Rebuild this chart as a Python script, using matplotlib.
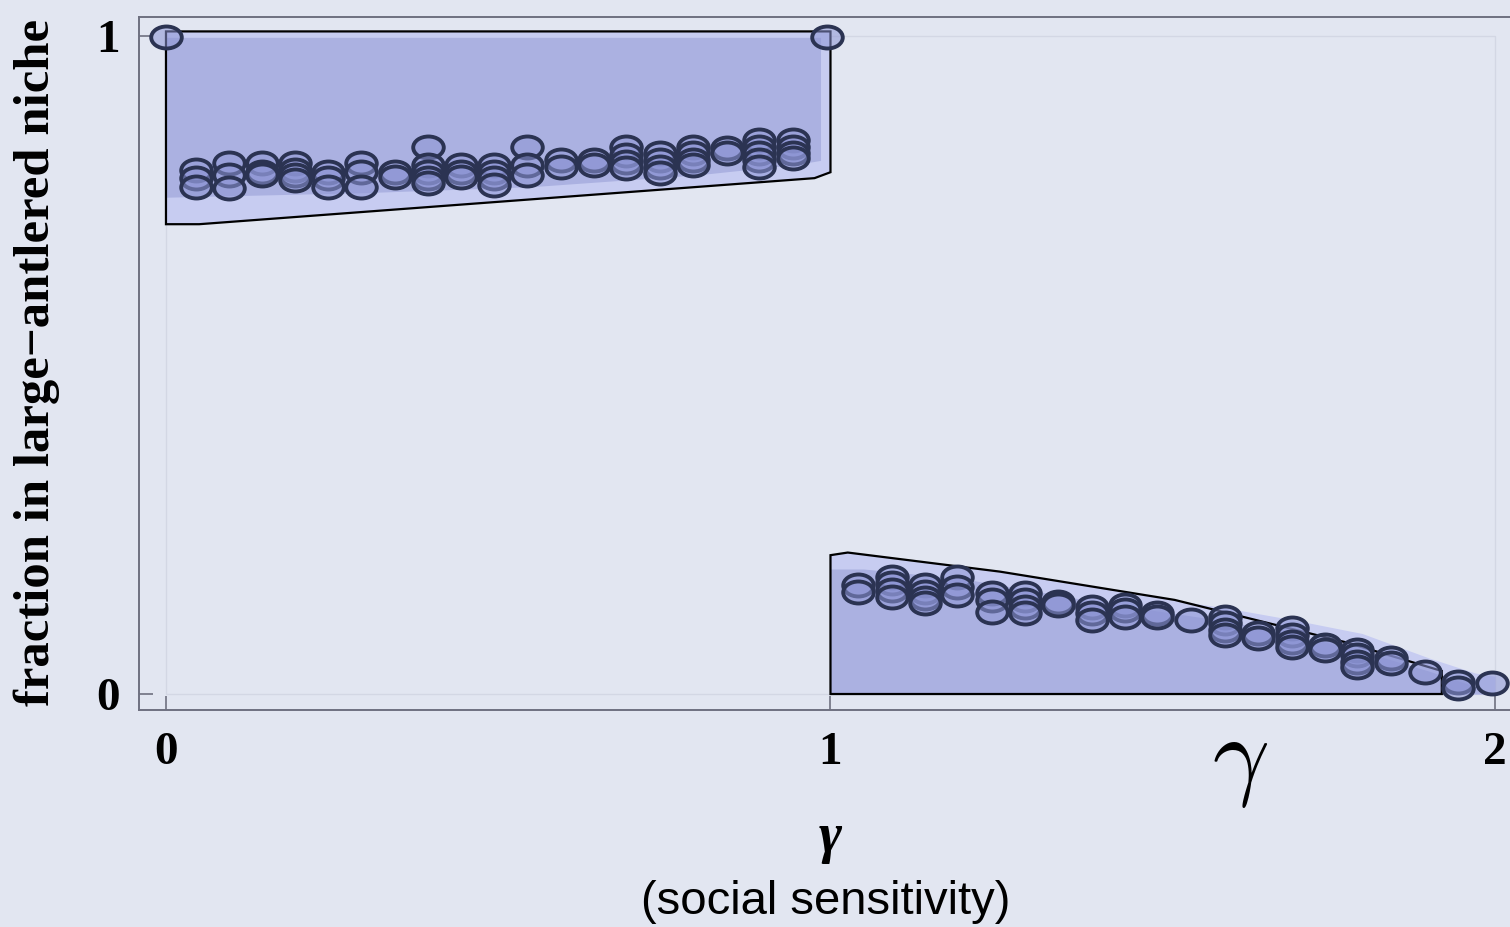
import matplotlib
matplotlib.use("Agg")
import matplotlib.pyplot as plt
import matplotlib.transforms as mtransforms
from matplotlib.path import Path
from matplotlib.patches import Polygon, Rectangle

# Data: gamma positions of the simulation runs and the fractions found
upper_x = [0.045, 0.095, 0.144, 0.194, 0.244, 0.293, 0.344, 0.394, 0.444, 0.493,
           0.543, 0.594, 0.644, 0.693, 0.743, 0.793, 0.844, 0.893, 0.943]
upper_y = [[0.796, 0.784, 0.771],
           [0.807, 0.789, 0.769],
           [0.807, 0.793, 0.789],
           [0.807, 0.796, 0.789, 0.781],
           [0.793, 0.784, 0.771],
           [0.807, 0.793, 0.771],
           [0.793, 0.786],
           [0.831, 0.804, 0.793, 0.784, 0.777],
           [0.804, 0.793, 0.786],
           [0.804, 0.793, 0.784, 0.774],
           [0.831, 0.804, 0.789],
           [0.812, 0.801],
           [0.812, 0.804],
           [0.831, 0.819, 0.809, 0.800],
           [0.822, 0.812, 0.801, 0.792],
           [0.831, 0.822, 0.812, 0.804],
           [0.830, 0.822],
           [0.842, 0.831, 0.822, 0.812, 0.801],
           [0.842, 0.831, 0.822, 0.815]]

lower_x = [1.041, 1.092, 1.142, 1.191, 1.243, 1.292, 1.342, 1.393, 1.443, 1.492,
           1.543, 1.593, 1.643, 1.694, 1.744, 1.793, 1.844, 1.894, 1.945, 1.995]
lower_y = [[0.166, 0.155],
           [0.178, 0.169, 0.158, 0.147],
           [0.166, 0.155, 0.146, 0.138],
           [0.178, 0.163, 0.150],
           [0.153, 0.143, 0.125],
           [0.153, 0.143, 0.132, 0.123],
           [0.140, 0.135],
           [0.132, 0.123, 0.112],
           [0.135, 0.128, 0.117],
           [0.123, 0.117],
           [0.112],
           [0.117, 0.108, 0.097, 0.090],
           [0.093, 0.085],
           [0.100, 0.090, 0.079, 0.071],
           [0.074, 0.067],
           [0.067, 0.059, 0.049, 0.041],
           [0.055, 0.047],
           [0.033],
           [0.018, 0.009],
           [0.017]]

end_x = [0.0, 0.995]
end_y = [0.998, 0.998]

# analytic envelopes
env_up_x = [0.0, 0.0, 0.05, 0.976, 1.0, 1.0]
env_up_y = [1.007, 0.714, 0.714, 0.784, 0.793, 1.007]
env_lo_x = [1.0, 1.0, 1.026, 1.255, 1.518, 1.774, 1.92, 1.92]
env_lo_y = [0.0, 0.211, 0.215, 0.186, 0.143, 0.079, 0.035, 0.0]

# spread of the simulations
band_up_x = [0.0, 0.3, 0.55, 0.8, 0.95, 0.985]
band_up_lo = [0.755, 0.762, 0.771, 0.789, 0.805, 0.811]
band_up_hi = 0.998
band_lo_x = [1.0, 1.05, 1.2, 1.3, 1.4, 1.5, 1.6, 1.7, 1.8, 1.9, 1.96, 2.0]
band_lo_hi = [0.19, 0.19, 0.175, 0.158, 0.14, 0.125, 0.11, 0.09, 0.065, 0.035, 0.015, 0.0]
halo_lo_x = [1.0, 1.3, 1.5, 1.6, 1.7, 1.8, 1.9, 1.97, 2.0]
halo_lo_hi = [0.195, 0.17, 0.145, 0.13, 0.112, 0.092, 0.055, 0.032, 0.027]

bg = '#e2e6f1'
light = '#c7ccf1'
dark = '#abb1e1'
edge = '#2b3352'
spine_c = '#6e7080'

fig = plt.figure(figsize=(15.1, 9.27), dpi=100, facecolor=bg)
ax = fig.add_axes([139/1510, 1 - 710/927, 1 - 139/1510, (710 - 17)/927])
ax.set_facecolor(bg)
ax.set_xlim(-0.0406, 2.0226)
ax.set_ylim(-0.0243, 1.0289)

# faint frame of the unit box
ax.add_patch(Rectangle((0, 0), 2, 1, fill=False, ec='#d3d7e4', lw=1.0, zorder=0.5))

# fills
ax.add_patch(Polygon(list(zip(env_up_x, env_up_y)), closed=True, fc=light, ec='none', zorder=1))
ax.add_patch(Polygon(list(zip(env_lo_x, env_lo_y)), closed=True, fc=light, ec='none', zorder=1))
ax.fill_between(halo_lo_x, 0, halo_lo_hi, color=light, lw=0, zorder=1.2)
ax.fill_between(band_up_x, band_up_lo, band_up_hi, color=dark, lw=0, zorder=1.5)
ax.fill_between(band_lo_x, 0, band_lo_hi, color=dark, lw=0, zorder=1.5)
ax.add_patch(Polygon(list(zip(env_up_x, env_up_y)), closed=True, fc='none', ec='black', lw=1.6, zorder=2))
ax.add_patch(Polygon(list(zip(env_lo_x, env_lo_y)), closed=True, fc='none', ec='black', lw=1.6, zorder=2))

# elliptical markers
ell = Path.unit_circle().transformed(mtransforms.Affine2D().scale(1.0, 0.72))
mk = dict(ls='none', marker=ell, ms=22, mfc=(0.55, 0.58, 0.83, 0.55), mec=edge, mew=2.8, zorder=3)
for xi, ys in zip(upper_x, upper_y):
    ax.plot([xi] * len(ys), ys, **mk)
for xi, ys in zip(lower_x, lower_y):
    ax.plot([xi] * len(ys), ys, **mk)
ax.plot(end_x, end_y, **mk)

# axes styling
for s in ['left', 'bottom', 'top']:
    ax.spines[s].set_color(spine_c)
    ax.spines[s].set_linewidth(1.4)
ax.spines['right'].set_visible(False)
ax.set_xticks([0, 1, 2])
ax.set_yticks([0, 1])
ax.set_xticklabels(['0', '1', '2'])
ax.set_yticklabels(['0', '1'])
ax.tick_params(direction='in', length=10, width=1.2, color=spine_c, labelsize=34, pad=14)
ax.tick_params(axis='x', pad=16)
for lab in ax.get_xticklabels() + ax.get_yticklabels():
    lab.set_family('Liberation Serif')
    lab.set_fontweight('bold')

fig.text(37/1510, 1 - 362/927, 'fraction in large\u2212antlered niche', rotation=90,
         ha='center', va='center', fontsize=36.5, fontweight='bold', family='Liberation Serif')
fig.text(830/1510, 1 - 838/927, '\u03b3', ha='center', va='center', fontsize=40,
         fontweight='bold', fontstyle='italic', family='Liberation Serif')
fig.text(826/1510, 1 - 902/927, '(social sensitivity)', ha='center', va='center',
         fontsize=34, family='Liberation Sans')
fig.text(1240/1510, 1 - 762/927, r'$\gamma$', ha='center', va='center', fontsize=72,
         math_fontfamily='cm')

fig.savefig('out.png', dpi=100, facecolor=bg)
